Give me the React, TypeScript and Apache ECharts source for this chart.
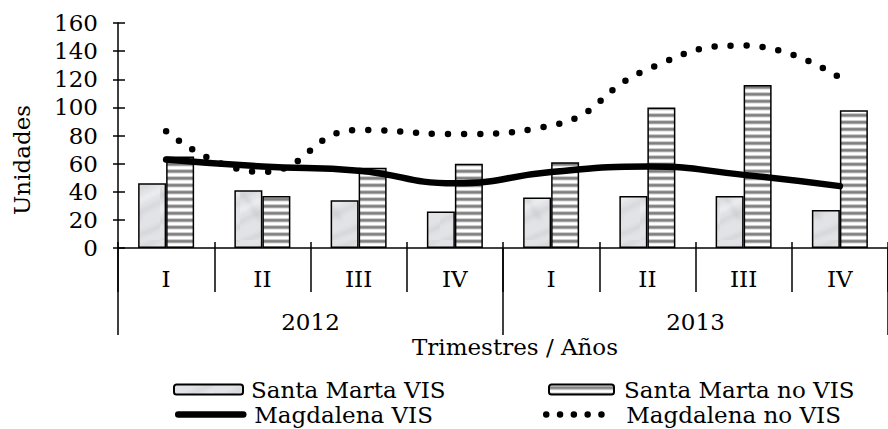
import React, { useEffect, useRef } from 'react';
import * as echarts from 'echarts';

const quarters = ['I', 'II', 'III', 'IV', 'I', 'II', 'III', 'IV'];
const years = ['2012', '2013'];
const santaMartaVIS = [46, 41, 34, 26, 36, 37, 37, 27];
const santaMartaNoVIS = [65, 37, 57, 60, 61, 100, 116, 98];
const magdalenaVIS = [63, 58, 55, 46, 54, 58, 52, 44];
const magdalenaNoVIS = [83, 54, 84, 81, 87, 127, 144, 121];

const FONT = 'DejaVu Serif';
const FS = 23;

function makeStripes(): HTMLCanvasElement {
  const c = document.createElement('canvas');
  c.width = 8;
  c.height = 7;
  const ctx = c.getContext('2d')!;
  const rows = ['#ffffff', '#cfcfcf', '#8a8a8a', '#7f7f7f', '#a3a3a3', '#e8e8e8', '#ffffff'];
  rows.forEach((col, i) => {
    ctx.fillStyle = col;
    ctx.fillRect(0, i, 8, 1);
  });
  return c;
}

function makeMarble(): HTMLCanvasElement {
  const c = document.createElement('canvas');
  c.width = 40;
  c.height = 60;
  const ctx = c.getContext('2d')!;
  ctx.fillStyle = '#e2e3e6';
  ctx.fillRect(0, 0, 40, 60);
  ctx.filter = 'blur(2px)';
  ctx.strokeStyle = 'rgba(175,175,178,0.45)';
  ctx.lineWidth = 2.5;
  const curves = [
    [-5, 20, 10, 12, 22, 8, 45, -4],
    [-5, 45, 12, 36, 25, 30, 45, 20],
    [-5, 66, 10, 58, 28, 52, 45, 44],
    [0, 10, 6, 18, 14, 28, 20, 40],
  ];
  curves.forEach((p) => {
    ctx.beginPath();
    ctx.moveTo(p[0], p[1]);
    ctx.bezierCurveTo(p[2], p[3], p[4], p[5], p[6], p[7]);
    ctx.stroke();
  });
  ctx.strokeStyle = 'rgba(250,250,252,0.8)';
  ctx.lineWidth = 3;
  ctx.beginPath();
  ctx.moveTo(-5, 32);
  ctx.bezierCurveTo(10, 26, 24, 18, 45, 8);
  ctx.stroke();
  return c;
}

export default function App() {
  const ref = useRef<HTMLDivElement>(null);

  useEffect(() => {
    if (!ref.current) return;
    const chart = echarts.init(ref.current, undefined, { renderer: 'svg' });
    const stripes = makeStripes();
    const marble = makeMarble();
    const stripeFill: any = { image: stripes, repeat: 'repeat' };
    const marbleFill: any = { image: marble, repeat: 'repeat' };
    const axisColor = '#000';
    const textStyle = { fontFamily: FONT, fontSize: FS, color: '#000' };

    chart.setOption({
      animation: false,
      backgroundColor: '#fff',
      textStyle: { fontFamily: FONT },
      grid: { left: 118, top: 23, width: 783, height: 225, containLabel: false },
      xAxis: [
        {
          type: 'category',
          data: quarters,
          position: 'bottom',
          boundaryGap: true,
          axisLine: { show: true, lineStyle: { color: axisColor, width: 1.5 } },
          axisTick: { show: true, interval: 0, length: 44, lineStyle: { color: axisColor, width: 1.5 } },
          axisLabel: { interval: 0, margin: 19, ...textStyle },
          splitLine: { show: false },
        },
        {
          type: 'category',
          data: years,
          position: 'bottom',
          boundaryGap: true,
          axisLine: { show: false },
          axisTick: { show: true, interval: 0, length: 87, lineStyle: { color: axisColor, width: 1.5 } },
          axisLabel: { interval: 0, margin: 62, ...textStyle },
          splitLine: { show: false },
        },
        {
          type: 'category',
          data: quarters,
          position: 'bottom',
          boundaryGap: true,
          axisLine: { show: false },
          axisTick: { show: true, inside: true, interval: 0, length: 6, lineStyle: { color: axisColor, width: 1.5 } },
          axisLabel: { show: false },
          splitLine: { show: false },
        },
      ],
      yAxis: [
        {
          type: 'value',
          min: 0,
          max: 160,
          interval: 20,
          position: 'left',
          axisLine: { show: true, lineStyle: { color: axisColor, width: 1.5 } },
          axisTick: { show: true, length: 5, lineStyle: { color: axisColor, width: 1.5 } },
          axisLabel: { margin: 20, ...textStyle },
          splitLine: { show: false },
        },
        {
          type: 'value',
          min: 0,
          max: 160,
          interval: 20,
          position: 'left',
          axisLine: { show: false },
          axisTick: { show: true, inside: true, length: 7, lineStyle: { color: axisColor, width: 1.5 } },
          axisLabel: { show: false },
          splitLine: { show: false },
        },
      ],
      legend: [
        {
          data: ['Santa Marta VIS'],
          left: 173,
          top: 378,
          padding: 0,
          itemWidth: 69,
          itemHeight: 10,
          textStyle: { ...textStyle, padding: [0, 0, 0, 3] },
        },
        {
          data: ['Santa Marta no VIS'],
          left: 548,
          top: 378,
          padding: 0,
          itemWidth: 65,
          itemHeight: 10,
          textStyle: { ...textStyle, padding: [0, 0, 0, 5] },
        },
        {
          data: ['Magdalena VIS'],
          left: 175,
          top: 403,
          padding: 0,
          itemWidth: 65,
          itemHeight: 10,
          itemStyle: { opacity: 0 },
          lineStyle: { width: 6.5, color: '#000', cap: 'round' },
          textStyle: { ...textStyle, padding: [0, 0, 0, 6] },
        },
        {
          data: ['Magdalena no VIS'],
          left: 543,
          top: 403,
          padding: 0,
          itemWidth: 69,
          itemHeight: 10,
          itemStyle: { opacity: 0 },
          lineStyle: { width: 6.5, color: '#000', type: [0, 13.8], cap: 'round' },
          textStyle: { ...textStyle, padding: [0, 0, 0, 6] },
        },
      ],
      graphic: [
        {
          type: 'text',
          x: 22,
          y: 160,
          rotation: Math.PI / 2,
          style: { text: 'Unidades', font: `${FS}px ${FONT}`, fill: '#000000', align: 'center', verticalAlign: 'middle' },
        },
        {
          type: 'text',
          x: 515,
          y: 347,
          style: { text: 'Trimestres / Años', font: `${FS}px ${FONT}`, fill: '#000000', align: 'center', verticalAlign: 'middle' },
        },
      ],
      series: [
        {
          name: 'Santa Marta VIS',
          type: 'bar',
          data: santaMartaVIS,
          barWidth: 28,
          barGap: '0%',
          itemStyle: { color: marbleFill, borderColor: '#000', borderWidth: 1.5 },
        },
        {
          name: 'Santa Marta no VIS',
          type: 'bar',
          data: santaMartaNoVIS,
          barWidth: 28,
          barGap: '0%',
          itemStyle: { color: stripeFill, borderColor: '#000', borderWidth: 1.5 },
        },
        {
          name: 'Magdalena VIS',
          type: 'line',
          data: magdalenaVIS,
          smooth: 0.5,
          symbol: 'none',
          itemStyle: { color: '#000' },
          lineStyle: { color: '#000', width: 6.5, cap: 'round', join: 'round' },
          z: 3,
        },
        {
          name: 'Magdalena no VIS',
          type: 'line',
          data: magdalenaNoVIS,
          smooth: 0.5,
          symbol: 'none',
          itemStyle: { color: '#000' },
          lineStyle: { color: '#000', width: 6.5, type: [0, 16], cap: 'round' },
          z: 3,
        },
      ],
    });
    return () => chart.dispose();
  }, []);

  return (
    <div
      ref={ref}
      style={{ position: 'fixed', left: 0, top: 0, width: 888, height: 429, background: '#fff' }}
    />
  );
}
